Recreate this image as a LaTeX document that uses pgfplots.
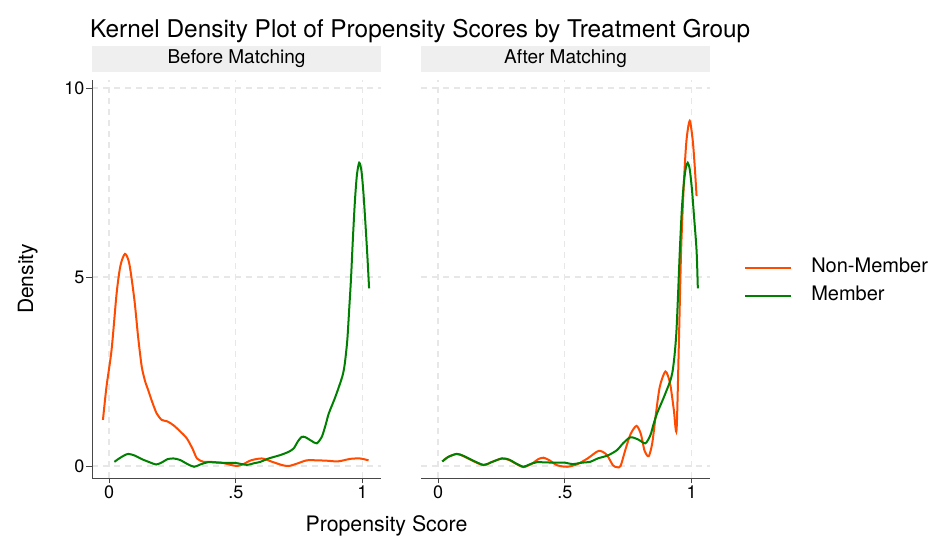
\documentclass[border=0pt]{standalone}
\usepackage{fontspec}
\setmainfont{TeX Gyre Heros}
\usepackage{pgfplots}
\pgfplotsset{compat=1.18}
\definecolor{nonmem}{RGB}{255,75,0}
\definecolor{mem}{RGB}{0,128,0}
\definecolor{stripgray}{RGB}{239,239,239}
\definecolor{gridgray}{RGB}{231,231,231}
\newcommand{\fs}[1]{\fontsize{#1}{#1}\selectfont}
\pgfplotsset{
  panel/.style={
    scale only axis,
    width=289pt, height=398pt,
    xmin=-0.0672, xmax=1.073,
    ymin=-0.317, ymax=10.21,
    xtick={0,0.5,1}, xticklabels={0,.5,1},
    ytick={0,5,10},
    grid=major,
    major grid style={draw=gridgray, line width=1.3pt, dash pattern=on 6pt off 5pt},
    axis line style={-, draw=black!72, line width=0.8pt},
    tick style={draw=black!72, line width=0.8pt},
    tick align=outside, major tick length=5.5pt,
    tick label style={font=\fs{18}, inner sep=2pt},
    title style={at={(0.5,1)}, anchor=south, yshift=2pt, fill=stripgray,
      minimum width=289pt, minimum height=26pt, inner sep=0pt, font=\fs{19}},
    every axis plot/.append style={line width=2pt, smooth, tension=0.45},
    clip=false,
  }
}
\begin{document}
\begin{tikzpicture}[x=1pt,y=1pt]
\useasboundingbox (0,0) rectangle (932,537);
\node[anchor=base west, font=\fs{24.4}] at (86.5,499.5) {Kernel Density Plot of Propensity Scores by Treatment Group};
\node[rotate=90, anchor=base, font=\fs{21}] at (33,258) {Density};
\node[anchor=base, font=\fs{21.3}] at (386.5,5.5) {Propensity Score};

\begin{axis}[panel, at={(92pt,59pt)}, anchor=south west,
  axis x line*=bottom, axis y line*=left,
  yticklabels={0,5,10},
  title={Before Matching}]
\addplot[nonmem] coordinates {
(-0.024,1.22) (-0.01,2.1) (0.01,3.07) (0.03,4.57) (0.045,5.3) (0.063,5.61) (0.08,5.35) (0.10,4.4) (0.115,3.4) (0.129,2.63) (0.142,2.25) (0.155,2.0) (0.17,1.7) (0.188,1.39) (0.208,1.22) (0.23,1.18) (0.254,1.08) (0.28,0.92) (0.307,0.73) (0.33,0.45) (0.347,0.2) (0.373,0.11) (0.40,0.11) (0.45,0.08) (0.48,0.03) (0.505,0.0) (0.53,0.05) (0.56,0.15) (0.603,0.2) (0.64,0.12) (0.68,0.03) (0.708,0.0) (0.74,0.06) (0.78,0.15) (0.82,0.15) (0.86,0.14) (0.90,0.12) (0.925,0.15) (0.953,0.19) (0.99,0.2) (1.024,0.15)
};
\addplot[mem] coordinates {
(0.021,0.11) (0.04,0.2) (0.06,0.28) (0.076,0.32) (0.10,0.28) (0.13,0.18) (0.16,0.1) (0.186,0.04) (0.21,0.1) (0.23,0.18) (0.254,0.2) (0.28,0.16) (0.31,0.05) (0.336,-0.02) (0.36,0.04) (0.39,0.1) (0.43,0.09) (0.47,0.08) (0.50,0.08) (0.544,0.03) (0.57,0.07) (0.597,0.11) (0.63,0.2) (0.676,0.29) (0.71,0.38) (0.729,0.47) (0.745,0.65) (0.76,0.77) (0.775,0.76) (0.80,0.66) (0.82,0.6) (0.84,0.78) (0.855,1.1) (0.867,1.39) (0.893,1.83) (0.92,2.36) (0.93,2.7) (0.94,3.33) (0.948,4.2) (0.955,5.0) (0.962,6.0) (0.97,7.0) (0.978,7.7) (0.987,8.02) (0.996,7.8) (1.005,7.1) (1.018,5.7) (1.026,4.7)
};
\end{axis}

\begin{axis}[panel, at={(421pt,59pt)}, anchor=south west,
  axis x line*=bottom, axis y line*=left,
  y axis line style={draw=none}, ytick style={draw=none},
  yticklabels={},
  title={After Matching},
  legend style={at={(1.118,0.4925)}, anchor=west, draw=none, fill=none,
    font=\fs{20}, inner sep=0pt, row sep=10pt, column sep=19pt,
    nodes={inner sep=0pt, text height=14pt, text depth=4pt}},
  legend cell align=left,
  legend image code/.code={\draw[#1, sharp plot] (0pt,0pt) -- (46pt,0pt);},
  ]
\addplot[nonmem] coordinates {
(0.017,0.12) (0.04,0.24) (0.074,0.32) (0.10,0.26) (0.13,0.16) (0.179,0.02) (0.21,0.1) (0.252,0.2) (0.28,0.16) (0.31,0.05) (0.337,-0.03) (0.37,0.06) (0.395,0.18) (0.416,0.22) (0.44,0.15) (0.47,0.02) (0.51,-0.02) (0.55,0.05) (0.59,0.2) (0.634,0.4) (0.665,0.3) (0.69,0.02) (0.706,-0.03) (0.72,0.0) (0.74,0.45) (0.76,0.85) (0.783,1.06) (0.80,0.85) (0.815,0.4) (0.831,0.26) (0.845,0.6) (0.86,1.4) (0.875,2.1) (0.897,2.5) (0.915,2.2) (0.93,1.5) (0.941,0.95) (0.95,3.2) (0.959,5.7) (0.97,7.5) (0.98,8.6) (0.993,9.13) (1.005,8.6) (1.013,7.9) (1.02,7.14)
};
\addlegendentry{Non-Member}
\addplot[mem] coordinates {
(0.017,0.12) (0.04,0.24) (0.074,0.32) (0.10,0.27) (0.13,0.17) (0.179,0.03) (0.21,0.1) (0.252,0.2) (0.28,0.17) (0.31,0.06) (0.337,-0.02) (0.36,0.04) (0.39,0.1) (0.45,0.09) (0.50,0.09) (0.53,0.05) (0.57,0.09) (0.60,0.11) (0.63,0.2) (0.67,0.28) (0.706,0.42) (0.73,0.6) (0.759,0.76) (0.79,0.7) (0.818,0.6) (0.838,0.82) (0.85,1.1) (0.864,1.39) (0.897,1.92) (0.924,2.45) (0.94,3.5) (0.954,5.71) (0.962,6.8) (0.97,7.5) (0.978,7.9) (0.985,8.02) (0.993,7.85) (1.002,7.3) (1.01,6.6) (1.02,5.7) (1.025,4.7)
};
\addlegendentry{Member}
\end{axis}
\end{tikzpicture}
\end{document}
